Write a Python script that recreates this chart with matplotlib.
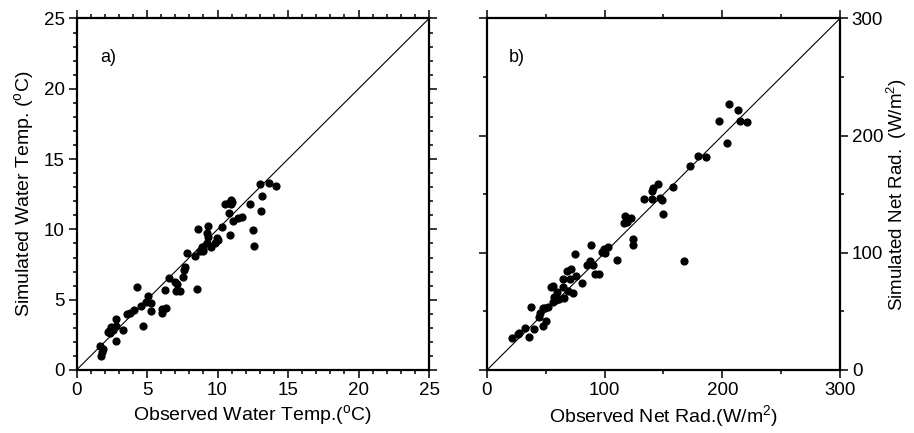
import numpy as np
import matplotlib
matplotlib.use('Agg')
import matplotlib.pyplot as plt
from matplotlib.ticker import MultipleLocator

plt.rcParams['font.family'] = ['Liberation Sans', 'DejaVu Sans']
plt.rcParams['mathtext.fontset'] = 'custom'
plt.rcParams['mathtext.rm'] = 'Liberation Sans'

# panel a: water temperature (deg C)
obs_temp = [13.0, 13.64, 14.18, 13.19, 13.05, 12.32, 12.55, 12.6, 10.54, 10.78,
            10.99, 11.04, 10.95, 10.8, 11.42, 11.75, 11.13, 10.33, 10.87, 8.63,
            9.29, 9.27, 9.29, 9.22, 9.93, 10.0, 9.83, 9.57, 8.89, 8.79,
            8.98, 9.0, 8.37, 7.85, 7.71, 7.59, 7.57, 6.55, 7.0, 7.14,
            7.04, 7.35, 8.53, 6.29, 4.3, 5.1, 4.92, 5.25, 4.56, 4.11,
            3.78, 3.55, 5.27, 6.05, 6.38, 6.08, 4.7, 3.31, 2.79, 2.79,
            2.48, 2.32, 2.25, 2.41, 2.77, 1.65, 1.89, 1.82, 1.73, 2.6]
sim_temp = [13.2, 13.3, 13.06, 12.39, 11.3, 11.78, 9.98, 8.84, 11.82, 11.85,
            12.09, 11.97, 11.78, 11.18, 10.83, 10.85, 10.59, 10.14, 9.6, 10.02,
            10.21, 9.76, 9.48, 9.05, 9.38, 9.27, 9.0, 8.77, 8.74, 8.48,
            8.48, 8.58, 8.1, 8.29, 7.35, 7.11, 6.61, 6.56, 6.28, 6.09,
            5.59, 5.59, 5.73, 5.66, 5.92, 5.28, 4.81, 4.74, 4.53, 4.29,
            4.08, 3.98, 4.17, 4.36, 4.43, 4.08, 3.1, 2.84, 3.63, 3.13,
            3.03, 2.8, 2.68, 2.61, 2.06, 1.68, 1.52, 1.26, 0.97, 2.85]

# panel b: net radiation (W/m2)
obs_rad = [205.4, 213.4, 196.9, 215.3, 220.7, 204.0, 179.3, 186.1, 172.7, 158.5,
           145.2, 141.5, 140.1, 133.8, 140.1, 147.2, 148.6, 150.0, 117.3, 122.4,
           116.5, 119.3, 123.9, 123.9, 103.1, 99.7, 97.4, 100.6, 88.4, 74.4,
           110.2, 167.6, 87.5, 84.7, 89.8, 91.8, 94.9, 68.2, 71.0, 70.5,
           75.6, 64.8, 81.0, 54.0, 56.5, 64.8, 59.9, 68.5, 72.7, 57.1,
           60.8, 65.3, 55.7, 58.8, 52.0, 49.4, 47.2, 44.9, 44.0, 37.5,
           50.0, 47.2, 40.3, 32.1, 36.1, 27.3, 26.4, 21.6]
sim_rad = [226.7, 221.9, 212.8, 212.5, 211.4, 193.8, 182.4, 181.8, 173.9, 156.5,
           158.8, 155.4, 152.8, 146.3, 145.7, 146.9, 145.2, 133.0, 131.8, 130.1,
           125.3, 125.9, 111.9, 107.1, 105.4, 103.1, 100.3, 100.0, 106.5, 98.9,
           93.8, 93.2, 93.2, 89.5, 89.5, 82.1, 81.8, 84.1, 86.1, 77.6,
           79.8, 77.3, 74.2, 71.0, 71.6, 71.0, 66.5, 67.3, 65.9, 62.5,
           60.2, 61.6, 58.2, 59.4, 53.7, 52.6, 52.6, 48.3, 45.5, 54.0,
           41.8, 37.5, 35.2, 35.8, 28.1, 31.3, 30.4, 27.6]

fig = plt.figure(figsize=(9.14, 4.33), dpi=100)
ax1 = fig.add_axes([0.0837, 0.1455, 0.3857, 0.8118])
ax2 = fig.add_axes([0.5328, 0.1455, 0.3862, 0.8118])


def style_axes(ax, lim, major, minor):
    ax.set_xlim(0, lim)
    ax.set_ylim(0, lim)
    ax.plot([0, lim], [0, lim], color='black', lw=0.8, zorder=1)
    ax.xaxis.set_major_locator(MultipleLocator(major))
    ax.xaxis.set_minor_locator(MultipleLocator(minor))
    ax.yaxis.set_major_locator(MultipleLocator(major))
    ax.yaxis.set_minor_locator(MultipleLocator(minor))
    for s in ax.spines.values():
        s.set_linewidth(1.6)
    ax.tick_params(which='both', direction='out', top=True, right=True,
                   width=1.1, labelsize=13.5, colors='black', pad=3)
    ax.tick_params(which='major', length=5.5)
    ax.tick_params(which='minor', length=3)


style_axes(ax1, 25, 5, 1)
ax1.scatter(obs_temp, sim_temp, s=24, color='black', zorder=3, clip_on=False)
ax1.set_xlabel(r'Observed Water Temp.($^{\rm o}$C)', fontsize=14, labelpad=3)
ax1.set_ylabel(r'Simulated Water Temp. ($^{\rm o}$C)', fontsize=14, labelpad=5)
ax1.text(0.09, 0.89, 'a)', transform=ax1.transAxes, fontsize=13,
         ha='center', va='center')

style_axes(ax2, 300, 100, 50)
ax2.scatter(obs_rad, sim_rad, s=24, color='black', zorder=3, clip_on=False)
ax2.tick_params(labelleft=False, labelright=True)
ax2.yaxis.set_label_position('right')
ax2.set_xlabel(r'Observed Net Rad.(W/m$^{\rm 2}$)', fontsize=14, labelpad=3)
ax2.set_ylabel(r'Simulated Net Rad.  (W/m$^{\rm 2}$)', fontsize=13.5, labelpad=1)
ax2.text(0.085, 0.89, 'b)', transform=ax2.transAxes, fontsize=13,
         ha='center', va='center')

fig.savefig('out.png', dpi=100)
